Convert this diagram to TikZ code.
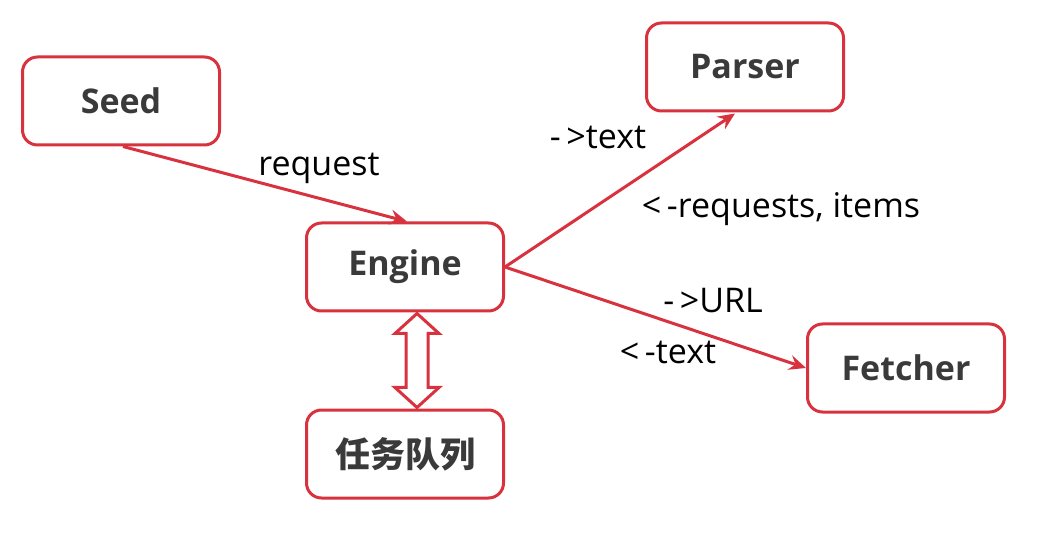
\documentclass[tikz,border=0pt]{standalone}
\usepackage{fontspec}
\setmainfont{Open Sans}
\newfontfamily\cjk{Noto Sans CJK SC}
\usetikzlibrary{arrows.meta,calc}
\definecolor{boxred}{HTML}{D8323F}
\definecolor{txtgray}{HTML}{3A3A3A}
\tikzset{
  box/.style={draw=boxred, line width=3pt, rounded corners=15pt, fill=white,
    minimum width=197pt, minimum height=88pt, inner sep=0pt,
    font=\fontsize{34}{38}\selectfont\bfseries, text=txtgray},
  conn/.style={draw=boxred, line width=3pt, -{Stealth[length=17pt,width=15pt,inset=6pt]}},
  lbl/.style={font=\fontsize{34}{38}\selectfont, text=black, inner sep=0pt}
}
\begin{document}
\begin{tikzpicture}[x=1pt,y=-1pt]
\useasboundingbox (0,0) rectangle (1052,534);
\node[box] (seed) at (121,101) {Seed};
\node[box] (engine) at (405,267) {Engine};
\node[box] (parser) at (745,67) {Parser};
\node[box] (fetcher) at (906,368) {Fetcher};
\node[box] (queue) at (405,454) {\cjk\fontsize{35}{38}\selectfont\bfseries 任务队列};

\draw[conn] ($(seed.south)+(2,0)$) -- ($(engine.north)+(2,0)$);
\draw[conn] (engine.east) -- ($(parser.south)+(-10,1)$);
\draw[conn] (engine.east) -- (fetcher.west);

\coordinate (dt) at ($(engine.south)+(12,1)$);
\coordinate (db) at ($(queue.north)+(12,-1)$);
\draw[draw=boxred, line width=3pt, fill=white, line join=miter]
  (dt) -- ++(22,20) -- ++(-11,0) -- ($(db)+(11,-20)$) -- ++(11,0) -- (db)
  -- ++(-22,-20) -- ++(11,0) -- ($(dt)+(-11,20)$) -- ++(-11,0) -- cycle;

\node[lbl] (l1) at (319,168) {request};
\node[lbl] (l2) at (598,137) {-\,>text};
\node[lbl] (l3) at (781,209) {<\,-requests, items};
\node[lbl] (l4) at (713,301) {-\,>URL};
\node[lbl] (l5) at (668,352) {<\,-text};
\end{tikzpicture}
\end{document}
